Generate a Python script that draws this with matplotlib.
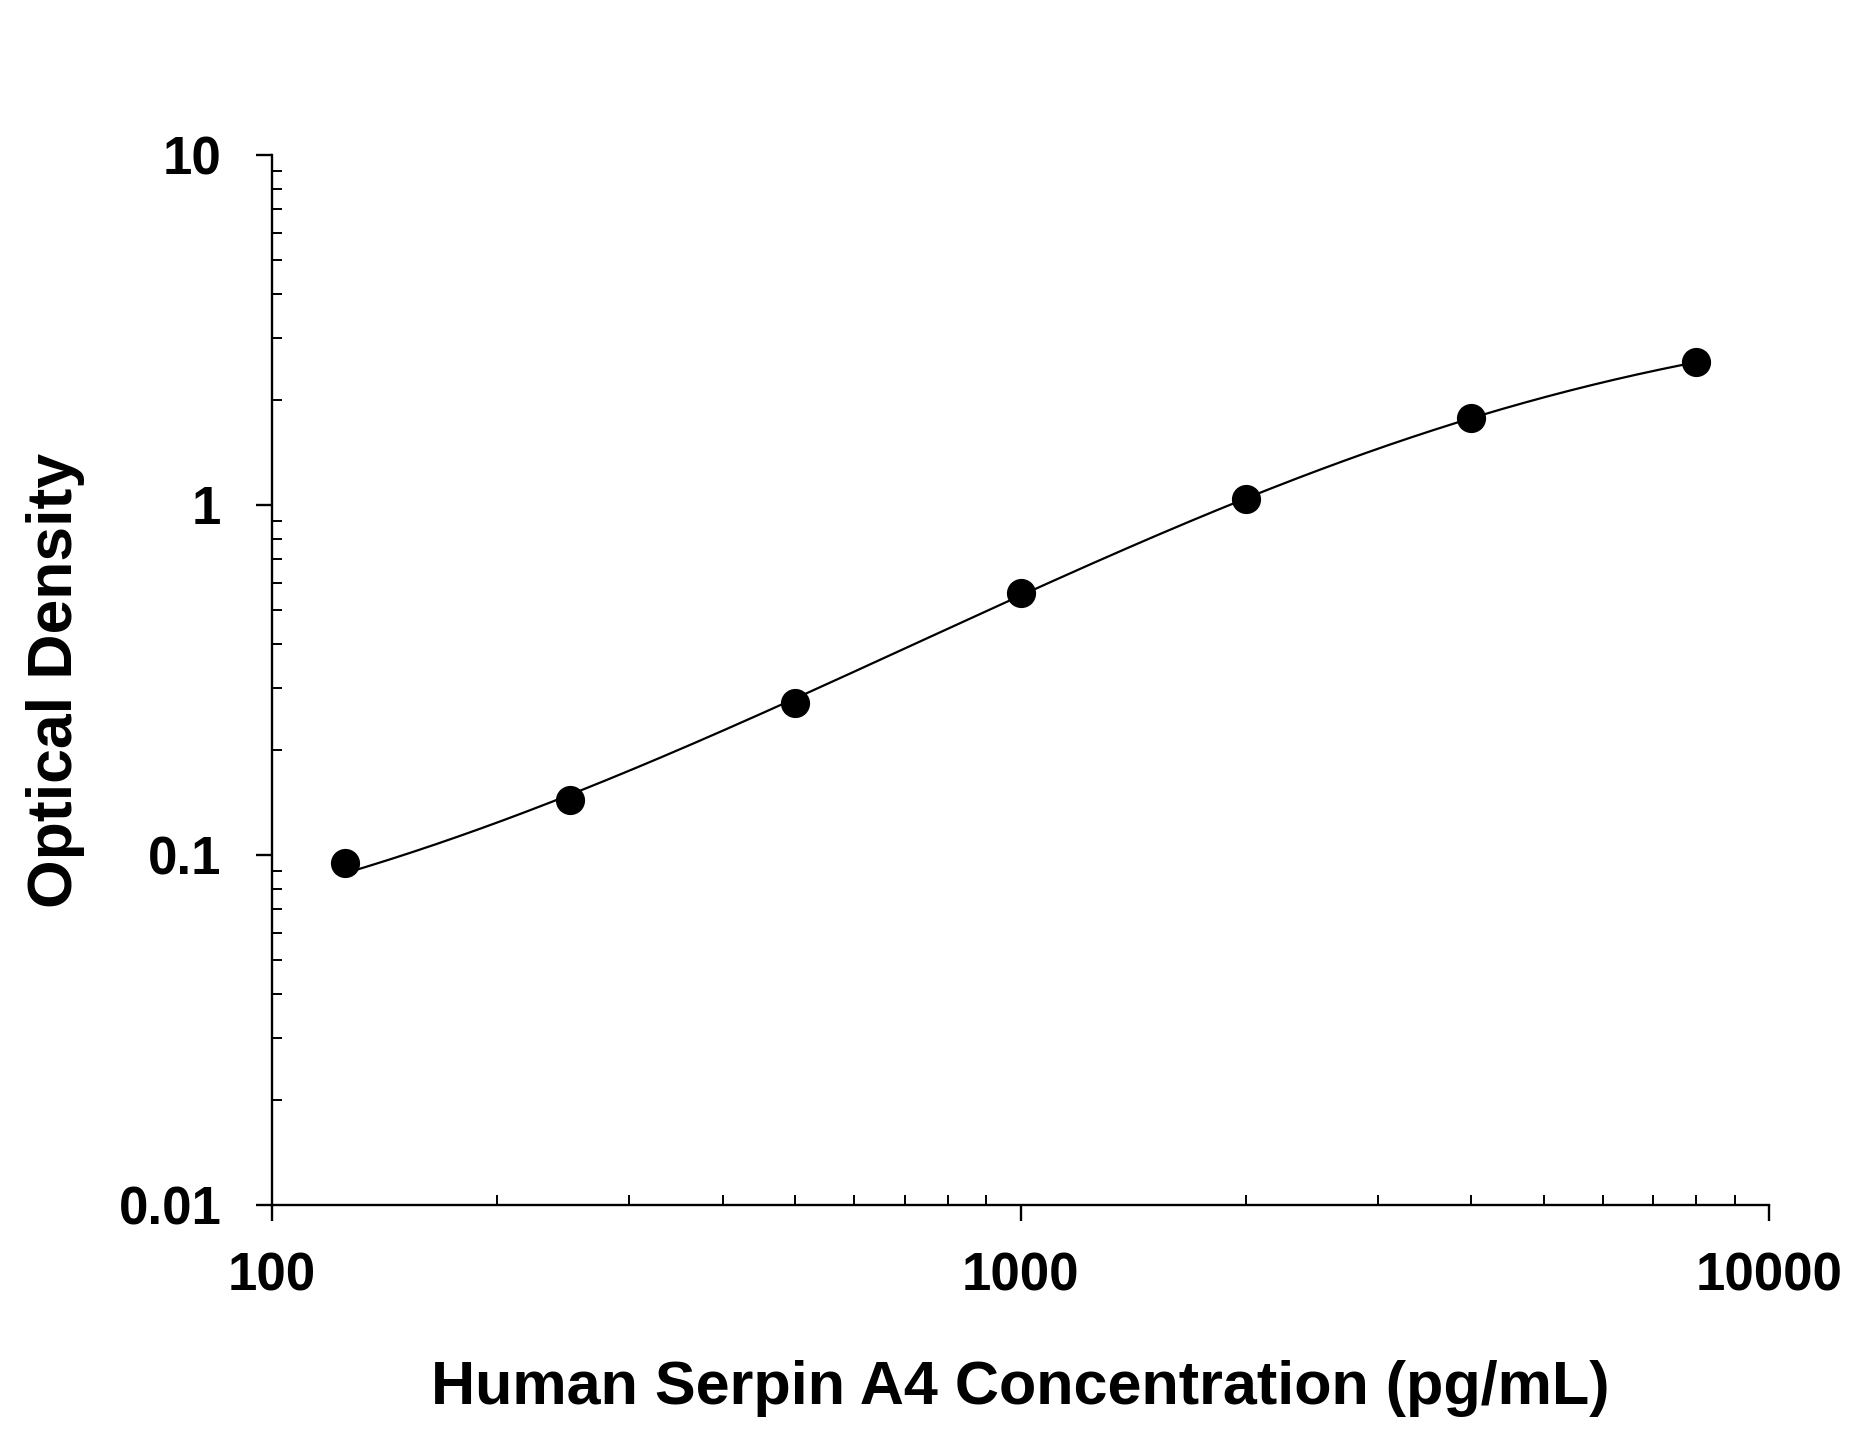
import numpy as np
import matplotlib
matplotlib.use('Agg')
import matplotlib.pyplot as plt
from matplotlib.ticker import LogLocator, FixedLocator, NullFormatter

# dados
concentracao = [125, 250, 500, 1000, 2000, 4000, 8000]  # pg/mL
densidade = [0.095, 0.144, 0.271, 0.562, 1.04, 1.77, 2.56]  # OD

xticks = [100, 1000, 10000]
xtick_labels = ['100', '1000', '10000']
yticks = [0.01, 0.1, 1, 10]
ytick_labels = ['0.01', '0.1', '1', '10']


def logistica(x, p):
    a, b, c, d = p
    return d + (a - d) / (1 + (x / c) ** b)


def ajustar_4pl(x, y, p0, n_iter=200):
    # Gauss-Newton amortecido simples (sem scipy)
    p = np.array(p0, dtype=float)
    lam = 1e-3
    for _ in range(n_iter):
        r = y - logistica(x, p)
        J = np.zeros((len(x), 4))
        for k in range(4):
            dp = np.zeros(4)
            dp[k] = 1e-6 * max(abs(p[k]), 1e-3)
            J[:, k] = (logistica(x, p + dp) - logistica(x, p)) / dp[k]
        A = J.T @ J
        passo = np.linalg.solve(A + lam * np.diag(np.diag(A)), J.T @ r)
        novo = p + passo
        if novo[2] > 0 and np.sum((y - logistica(x, novo)) ** 2) < np.sum(r ** 2):
            p = novo
            lam *= 0.5
        else:
            lam *= 4
    return p


x = np.array(concentracao, dtype=float)
y = np.array(densidade, dtype=float)
params = ajustar_4pl(x, y, [0.03, 1.0, 3000.0, 4.0])

plt.rcParams['font.family'] = ['Liberation Sans', 'DejaVu Sans']
plt.rcParams['font.weight'] = 'bold'

fig = plt.figure(figsize=(18.52, 14.33), dpi=100)
ax = fig.add_axes([272 / 1852, 1 - 1205 / 1433, 1497 / 1852, 1050 / 1433])

xs = np.logspace(np.log10(x[0]), np.log10(x[-1]), 300)
ax.plot(xs, logistica(xs, params), color='black', lw=1.6, zorder=2)
ax.plot(concentracao, densidade, 'o', color='black', markersize=20, zorder=3)

ax.set_xscale('log')
ax.set_yscale('log')
ax.set_xlim(100, 10000)
ax.set_ylim(0.01, 10)

for s in ['top', 'right']:
    ax.spines[s].set_visible(False)
for s in ['left', 'bottom']:
    ax.spines[s].set_linewidth(1.7)

ax.xaxis.set_major_locator(FixedLocator(xticks))
ax.yaxis.set_major_locator(FixedLocator(yticks))
ax.set_xticklabels(xtick_labels)
ax.set_yticklabels(ytick_labels)
ax.xaxis.set_minor_locator(LogLocator(base=10, subs=np.arange(2, 10)))
ax.yaxis.set_minor_locator(LogLocator(base=10, subs=np.arange(2, 10)))
ax.xaxis.set_minor_formatter(NullFormatter())
ax.yaxis.set_minor_formatter(NullFormatter())

ax.tick_params(which='major', direction='out', length=11.5, width=1.7, labelsize=38)
ax.tick_params(which='minor', direction='in', length=7, width=1.4)
ax.tick_params(axis='x', which='major', pad=22)
ax.tick_params(axis='y', which='major', pad=25)

ax.set_xlabel('Human Serpin A4 Concentration (pg/mL)', fontsize=44, fontweight='bold')
ax.set_ylabel('Optical Density', fontsize=45, fontweight='bold')
ax.xaxis.set_label_coords(0.5, -0.148)
ax.yaxis.set_label_coords(-0.125, 0.5)

fig.savefig('out.png', dpi=100)
